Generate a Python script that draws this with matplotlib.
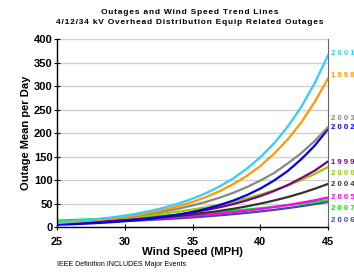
import numpy as np
import matplotlib.pyplot as plt

plt.rcParams['font.family'] = ['Liberation Sans', 'DejaVu Sans']

mph = [25, 26, 27, 28, 29, 30, 31, 32, 33, 34, 35, 36, 37, 38, 39, 40, 41, 42, 43, 44, 45]

y2001 = [10, 12.0, 14.3, 17.2, 20.5, 24.6, 29.4, 35.2, 42.2, 50.5, 60.5, 72.4, 86.7, 103.8, 124.3, 148.8, 178, 213, 255, 306, 366]
y1998 = [9, 10.8, 12.9, 15.4, 18.4, 22, 26.3, 31.4, 37.5, 44.9, 53.6, 64, 76.5, 91.5, 109, 130, 156, 186, 222, 266, 317]
y2003 = [10, 11.7, 13.6, 15.8, 18.4, 21.5, 25.0, 29.2, 34.0, 39.6, 46.2, 53.8, 62.7, 73.0, 85.1, 99.1, 115, 135, 157, 183, 213]
y2002 = [5, 6.0, 7.3, 8.7, 10.5, 12.7, 15.3, 18.4, 22.2, 26.8, 32.3, 38.9, 46.9, 56.5, 68.1, 82, 98.9, 119, 144, 173, 209]
y1999 = [7, 8.1, 9.4, 11.0, 12.7, 14.8, 17.2, 20.0, 23.2, 26.9, 31.3, 36.3, 42.2, 49.0, 56.9, 66.1, 76.8, 89.2, 104, 120, 140]
y2000 = [11, 12.4, 14.1, 15.9, 18.0, 20.3, 23.0, 26.0, 29.4, 33.2, 37.5, 42.4, 47.9, 54.2, 61.2, 69.2, 78.2, 88.4, 100, 113, 128]
y2004 = [8, 9.0, 10.2, 11.5, 13.0, 14.7, 16.6, 18.8, 21.2, 24.0, 27.1, 30.6, 34.6, 39.1, 44.2, 50, 56.5, 63.8, 72.1, 81.5, 92]
y2005 = [9, 9.9, 10.9, 12.0, 13.3, 14.6, 16.1, 17.7, 19.6, 21.6, 23.8, 26.2, 28.9, 31.9, 35.1, 38.7, 42.7, 47.0, 51.8, 57.1, 63]
y2007 = [14, 15.0, 16.1, 17.3, 18.6, 19.9, 21.4, 22.9, 24.6, 26.4, 28.3, 30.4, 32.6, 35.0, 37.5, 40.3, 43.2, 46.4, 49.8, 53.4, 57.3]
y2006 = [8, 8.8, 9.7, 10.6, 11.7, 12.9, 14.1, 15.6, 17.1, 18.9, 20.7, 22.8, 25.1, 27.6, 30.3, 33.4, 36.7, 40.4, 44.4, 48.9, 53.7]

years = ['2001', '1998', '2003', '2002', '1999', '2000', '2004', '2005', '2007', '2006']
series = [y2001, y1998, y2003, y2002, y1999, y2000, y2004, y2005, y2007, y2006]
colors = ['#33CCFF', '#FF9900', '#888888', '#0000EE', '#800080', '#99CC00',
          '#333333', '#FF00FF', '#00EE00', '#4444AA']
label_y = [370, 323, 232, 211, 138, 115, 91, 64, 40, 15]

title1 = 'Outages and Wind Speed Trend Lines'
title2 = '4/12/34 kV Overhead Distribution Equip Related Outages'


def spaced(s):
    # loose letter spacing like the original export
    return '\u200a'.join(s)


fig = plt.figure(figsize=(3.54, 2.73), dpi=100)
ax = fig.add_axes([0.161, 0.168, 0.766, 0.689])

# draw from the bottom up so the steep ones sit on top
for i in range(len(series) - 1, -1, -1):
    ax.plot(mph, series[i], color=colors[i], lw=1.6, solid_capstyle='round')

for i in range(len(years)):
    ax.text(45.2, label_y[i], ' '.join(years[i]), color=colors[i], fontsize=5.6,
            fontweight='bold', va='center', ha='left', clip_on=False)

ax.set_xlim(25, 45)
ax.set_ylim(0, 400)
ax.set_xticks([25, 30, 35, 40, 45])
ax.set_yticks(np.arange(0, 401, 50))
ax.yaxis.grid(True, color='#d0d0d0', lw=1.0)
ax.set_axisbelow(True)
ax.tick_params(axis='both', direction='inout', length=4, width=0.8, labelsize=8, pad=1)
ax.tick_params(axis='x', pad=5, labelsize=7.8)
for lab in ax.get_xticklabels() + ax.get_yticklabels():
    lab.set_fontweight('bold')
ax.spines['top'].set_visible(False)
ax.spines['right'].set_color('#666666')
ax.spines['left'].set_linewidth(1.0)
ax.spines['bottom'].set_linewidth(1.0)

ax.set_xlabel('Wind Speed (MPH)', fontsize=8.2, fontweight='bold', labelpad=0)
ax.set_ylabel('Outage Mean per Day', fontsize=8, fontweight='bold', labelpad=2)

fig.text(0.535, 0.955, spaced(title1), ha='center', va='center',
         fontsize=6.0, fontweight='bold')
fig.text(0.535, 0.918, spaced(title2), ha='center', va='center',
         fontsize=6.0, fontweight='bold')
fig.text(0.162, 0.03, 'IEEE Definition INCLUDES Major Events', fontsize=5.0, va='center')

fig.savefig('out.png', dpi=100)
